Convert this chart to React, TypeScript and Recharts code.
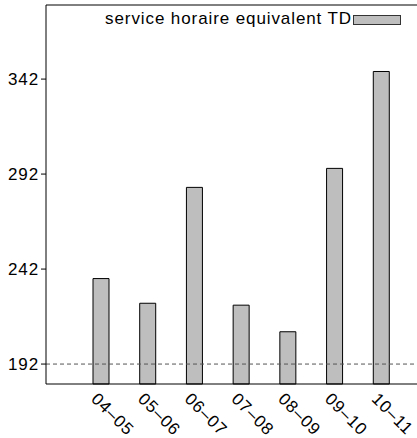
import { Bar, BarChart, ReferenceLine, XAxis, YAxis } from "recharts";

const years = ["04–05", "05–06", "06–07", "07–08", "08–09", "09–10", "10–11"];
const hours = [237, 224, 285, 223, 209, 295, 346];
const yTicks = [192, 242, 292, 342];
const threshold = 192;
const yDomain = [181.5, 381];
const seriesName = "service horaire equivalent TD";

const data = years.map((year, i) => ({ year, hours: hours[i] }));

const font = "'Liberation Sans', Arial, sans-serif";
const spacing = 0.9;

function SlantTick(props: any) {
  const { x, y, payload } = props;
  const ax = x - 11;
  const ay = y + 16;
  return (
    <text
      x={ax}
      y={ay}
      transform={`rotate(45, ${ax}, ${ay})`}
      textAnchor="start"
      fontSize={17}
      fontFamily={font}
      letterSpacing={spacing}
      fill="#000"
    >
      {payload.value}
    </text>
  );
}

export default function App() {
  return (
    <div
      style={{
        position: "absolute",
        left: 0,
        top: 0,
        width: 417,
        height: 438,
        overflow: "hidden",
        background: "#fff",
      }}
    >
      <BarChart
        width={440}
        height={438}
        data={data}
        margin={{ top: 5, right: 20, bottom: 0, left: 0 }}
      >
        <XAxis
          dataKey="year"
          height={54}
          padding={{ left: 32, right: 15 }}
          tickLine={false}
          tickSize={0}
          tickMargin={0}
          interval={0}
          axisLine={{ stroke: "#000" }}
          tick={<SlantTick />}
        />
        <YAxis
          yAxisId="left"
          width={46}
          domain={yDomain}
          ticks={yTicks}
          tickSize={5}
          tickMargin={2}
          axisLine={{ stroke: "#000" }}
          tickLine={{ stroke: "#000" }}
          tick={{
            fontSize: 17,
            fill: "#000",
            fontFamily: font,
            letterSpacing: spacing,
          }}
        />
        <YAxis
          yAxisId="right"
          orientation="right"
          mirror
          width={0}
          domain={yDomain}
          ticks={yTicks}
          tickSize={5}
          tick={false}
          axisLine={{ stroke: "#000" }}
          tickLine={{ stroke: "#000" }}
        />
        <ReferenceLine yAxisId="left" y={yDomain[1]} stroke="#000" />
        <ReferenceLine
          yAxisId="left"
          y={threshold}
          stroke="#555"
          strokeDasharray="4 3"
        />
        <Bar
          yAxisId="left"
          dataKey="hours"
          barSize={16}
          fill="#bebebe"
          stroke="#000"
          strokeWidth={1}
          isAnimationActive={false}
        />
      </BarChart>
      <div
        style={{
          position: "absolute",
          right: 417 - 352,
          top: 9,
          fontFamily: font,
          fontSize: 17,
          lineHeight: "20px",
          letterSpacing: spacing,
          whiteSpace: "nowrap",
        }}
      >
        {seriesName}
      </div>
      <div
        style={{
          position: "absolute",
          left: 353,
          top: 15,
          width: 46,
          height: 8,
          background: "#bebebe",
          border: "1px solid #333",
        }}
      />
    </div>
  );
}
